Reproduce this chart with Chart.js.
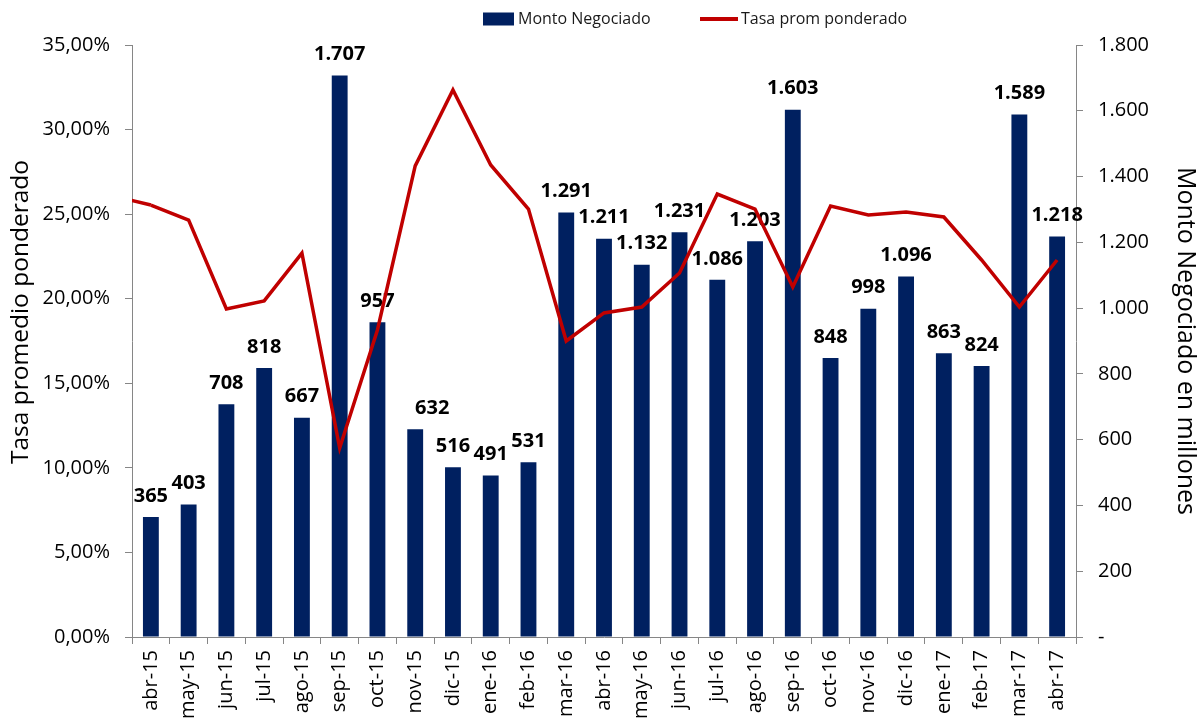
<!DOCTYPE html>
<html><head><meta charset="utf-8">
<script src="https://cdn.jsdelivr.net/npm/chart.js@4.4.1/dist/chart.umd.min.js"></script>
<style>html,body{margin:0;padding:0;background:#fff;}</style>
</head><body>
<canvas id="c" width="1198" height="722"></canvas>
<script>
// ---- data ----
const categories = ['abr-15','may-15','jun-15','jul-15','ago-15','sep-15','oct-15','nov-15','dic-15','ene-16','feb-16','mar-16','abr-16','may-16','jun-16','jul-16','ago-16','sep-16','oct-16','nov-16','dic-16','ene-17','feb-17','mar-17','abr-17'];
const montoNegociado = [365,403,708,818,667,1707,957,632,516,491,531,1291,1211,1132,1231,1086,1203,1603,848,998,1096,863,824,1589,1218];
const tasaPrevia = 26.08; // mes anterior (mar-15), sólo se ve el tramo inicial
const tasaPromedio = [25.54,24.65,19.39,19.87,22.70,11.17,18.15,27.85,32.34,27.91,25.30,17.50,19.16,19.51,21.52,26.19,25.30,20.69,25.48,24.95,25.13,24.83,22.29,19.51,22.29];
const tasaTicks = [0,5,10,15,20,25,30,35];
const montoTicks = [0,200,400,600,800,1000,1200,1400,1600,1800];

// ---- style ----
const NAVY = '#002060', RED = '#C00000', AXIS = '#868686';
const FONT = "'Open Sans', sans-serif";
const LINE_W = 3.5;
const labelShiftX = [0,0,0,0,0,0,0,17,0,0,0,0,0,0,0,0,0,0,0,0,0,0,0,0,0];

const fmtMiles = v => String(Math.round(v)).replace(/\B(?=(\d{3})+(?!\d))/g, '.');
const fmtPct = v => v.toFixed(2).replace('.', ',') + '%';

const barLabels = {
  id: 'barLabels',
  afterDatasetDraw(chart, args) {
    if (args.index !== 0) return;
    const ctx = chart.ctx;
    ctx.save();
    ctx.font = "bold 20px " + FONT;
    ctx.fillStyle = '#000';
    ctx.textAlign = 'center';
    ctx.textBaseline = 'middle';
    args.meta.data.forEach((el, i) => {
      ctx.fillText(fmtMiles(montoNegociado[i]), el.x + labelShiftX[i], el.y - 21);
    });
    ctx.restore();
  }
};

// tramo de la serie que viene del mes anterior (recortado al área del gráfico)
const leadSegment = {
  id: 'leadSegment',
  afterDatasetsDraw(chart) {
    const x = chart.scales.x, y = chart.scales.y, a = chart.chartArea, ctx = chart.ctx;
    ctx.save();
    ctx.beginPath();
    ctx.rect(a.left, a.top, a.right - a.left, a.bottom - a.top);
    ctx.clip();
    ctx.strokeStyle = RED;
    ctx.lineWidth = LINE_W;
    ctx.lineCap = 'butt';
    ctx.beginPath();
    ctx.moveTo(x.getPixelForValue(-1), y.getPixelForValue(tasaPrevia));
    ctx.lineTo(x.getPixelForValue(0), y.getPixelForValue(tasaPromedio[0]));
    ctx.stroke();
    ctx.restore();
  }
};

const leftTitle = {
  id: 'leftTitle',
  afterDraw(chart) {
    const ctx = chart.ctx;
    ctx.save();
    ctx.translate(21, 312);
    ctx.rotate(-Math.PI / 2);
    ctx.font = "24.5px " + FONT;
    ctx.fillStyle = '#000';
    ctx.textAlign = 'center';
    ctx.textBaseline = 'middle';
    ctx.fillText('Tasa promedio ponderado', 0, 0);
    ctx.restore();
  }
};

const topLegend = {
  id: 'topLegend',
  afterDraw(chart) {
    const ctx = chart.ctx;
    const ds = chart.data.datasets;
    ctx.save();
    ctx.font = "16px " + FONT;
    ctx.textBaseline = 'middle';
    ctx.textAlign = 'left';
    const cy = 19;
    ctx.fillStyle = ds[0].backgroundColor;
    ctx.fillRect(483, cy - 6.5, 31, 13);
    ctx.fillStyle = '#1a1a1a';
    ctx.fillText(ds[0].label, 518, cy);
    ctx.strokeStyle = ds[1].borderColor;
    ctx.lineWidth = 4;
    ctx.beginPath(); ctx.moveTo(700, cy); ctx.lineTo(738, cy); ctx.stroke();
    ctx.fillText(ds[1].label, 741, cy);
    ctx.restore();
  }
};

new Chart(document.getElementById('c'), {
  type: 'bar',
  data: {
    labels: categories,
    datasets: [
      {
        type: 'bar', label: 'Monto Negociado', data: montoNegociado,
        backgroundColor: NAVY, borderWidth: 0,
        barPercentage: 0.42, categoryPercentage: 1.0,
        yAxisID: 'y2', order: 2
      },
      {
        type: 'line', label: 'Tasa prom ponderado', data: tasaPromedio,
        borderColor: RED, backgroundColor: RED, borderWidth: LINE_W,
        pointRadius: 0, tension: 0, fill: false,
        yAxisID: 'y', order: 1
      }
    ]
  },
  options: {
    responsive: false, animation: false, devicePixelRatio: 1,
    layout: { padding: { top: 45, left: 0, right: 0, bottom: 0 } },
    plugins: { legend: { display: false }, tooltip: { enabled: false } },
    scales: {
      x: {
        type: 'category', offset: true,
        grid: { display: true, drawOnChartArea: false, offset: true, tickLength: 7, color: AXIS },
        border: { display: true, color: AXIS, width: 1 },
        ticks: { font: { family: FONT, size: 20 }, color: '#000', minRotation: 90, maxRotation: 90, padding: 6, autoSkip: false },
        afterFit(s) { s.height = 85; s.paddingLeft = 0; s.paddingRight = 0; }
      },
      y: {
        position: 'left', min: 0, max: 35,
        afterBuildTicks(s) { s.ticks = tasaTicks.map(v => ({value: v})); },
        grid: { display: true, drawOnChartArea: false, tickLength: 7, color: AXIS },
        border: { display: true, color: AXIS, width: 1 },
        ticks: { font: { family: FONT, size: 20 }, color: '#000', padding: 15, callback: v => fmtPct(v) },
        title: { display: false },
        afterFit(s) { s.width = 132; s.paddingTop = 0; s.paddingBottom = 0; }
      },
      y2: {
        position: 'right', min: 0, max: 1800,
        afterBuildTicks(s) { s.ticks = montoTicks.map(v => ({value: v})); },
        grid: { display: true, drawOnChartArea: false, tickLength: 7, color: AXIS },
        border: { display: true, color: AXIS, width: 1 },
        ticks: { font: { family: FONT, size: 20 }, color: '#000', padding: 15, callback: v => v === 0 ? '-' : fmtMiles(v) },
        title: { display: true, text: 'Monto Negociado en millones', font: { family: FONT, size: 25, lineHeight: 1 }, color: '#000', padding: { top: 0, bottom: 0 } },
        afterFit(s) { s.width = 122; s.paddingTop = 0; s.paddingBottom = 0; }
      }
    }
  },
  plugins: [barLabels, leadSegment, leftTitle, topLegend]
});
</script>
</body></html>
